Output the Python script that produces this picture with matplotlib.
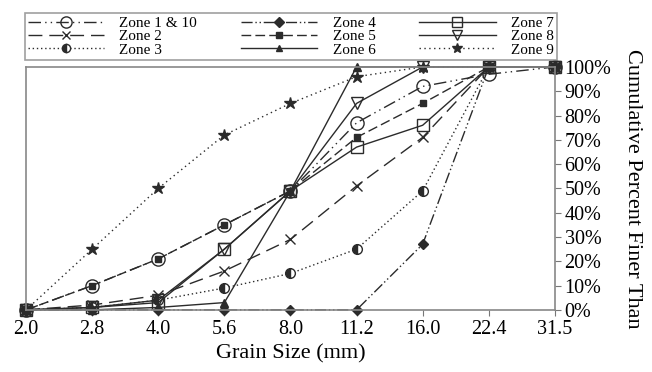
import numpy as np
import matplotlib
matplotlib.use('Agg')
import matplotlib.pyplot as plt

plt.rcParams['font.family'] = ['Liberation Serif', 'DejaVu Serif']

# Grain sizes (mm) on a categorical axis
sizes = ['2.0', '2.8', '4.0', '5.6', '8.0', '11.2', '16.0', '22.4', '31.5']

# Cumulative percent finer than
zone1_10 = [0, 10, 21, 35, 49, 77, 92, 97, 100]
zone2 = [0, 2, 6, 16, 29, 51, 71, 100, 100]
zone3 = [0, 1, 4, 9, 15, 25, 49, 100, 100]
zone4 = [0, 0, 0, 0, 0, 0, 27, 100, 100]
zone5 = [0, 10, 21, 35, 49, 71, 85, 100, 100]
zone6 = [0, 0, 1, 3, 49, 100, 100, 100, 100]
zone7 = [0, 1, 3, 25, 49, 67, 76, 100, 100]
zone8 = [0, 1, 4, 25, 49, 85, 100, 100, 100]
zone9 = [0, 25, 50, 72, 85, 96, 100, 100, 100]

labels = ['Zone 1 & 10', 'Zone 2', 'Zone 3', 'Zone 4', 'Zone 5', 'Zone 6',
          'Zone 7', 'Zone 8', 'Zone 9']
series = [zone1_10, zone2, zone3, zone4, zone5, zone6, zone7, zone8, zone9]

lc = '#2b2b2b'
styles = [
    dict(ls=(0, (9, 3, 1, 3, 1, 3)), marker='o', ms=9.5, mfc='none', mew=1.0),
    dict(ls=(0, (10, 5)), marker='x', ms=7, mew=1.0),
    dict(ls=(0, (1, 2)), marker='o', ms=7, fillstyle='left', mfc=lc, mfcalt='white', mew=1.0),
    dict(ls=(0, (8, 2, 1, 2, 1, 2)), marker='D', ms=5.5),
    dict(ls=(0, (7, 3)), marker='s', ms=5),
    dict(ls='-', marker='^', ms=5.5),
    dict(ls='-', marker='s', ms=8.5, mfc='none', mew=1.0),
    dict(ls='-', marker='v', ms=8, mfc='none', mew=1.0),
    dict(ls=(0, (1, 2.5)), marker='*', ms=9),
]

fig = plt.figure(figsize=(6.52, 3.72), dpi=100)
ax = fig.add_axes([0.040, 0.167, 0.811, 0.653])

x = np.arange(len(sizes))
handles = []
for y, lab, st in zip(series, labels, styles):
    h, = ax.plot(x, y, color=lc, lw=1.0, mec=lc, label=lab, clip_on=False, **st)
    handles.append(h)

ax.set_xlim(0, len(sizes) - 1)
ax.set_ylim(0, 100)
ax.set_xticks(x)
ax.set_xticklabels(sizes, fontsize=14.5)
ax.yaxis.tick_right()
ax.yaxis.set_label_position('right')
ax.set_yticks(np.arange(0, 101, 10))
ax.set_yticklabels([f'{v}%' for v in range(0, 101, 10)], fontsize=14.5)
ax.tick_params(axis='both', direction='out', length=4, color='#777777', pad=3)
ax.set_xlabel('Grain Size (mm)', fontsize=16, labelpad=4)
ax.set_ylabel('Cumulative Percent Finer Than', fontsize=16, rotation=270, labelpad=22)
for s in ax.spines.values():
    s.set_color('#888888')
    s.set_linewidth(1.2)

leg = fig.legend(handles=handles, ncol=3, loc='lower left',
                 bbox_to_anchor=(0.038, 0.839, 0.816, 0.145), mode='expand',
                 fontsize=11, handlelength=5, handletextpad=1.0, markerscale=0.85,
                 labelspacing=-0.02, borderaxespad=0, borderpad=0.2,
                 columnspacing=0.8, frameon=True, fancybox=False)
leg.get_frame().set_edgecolor('#888888')
leg.get_frame().set_linewidth(1.2)

plt.savefig('out.png', dpi=100)
